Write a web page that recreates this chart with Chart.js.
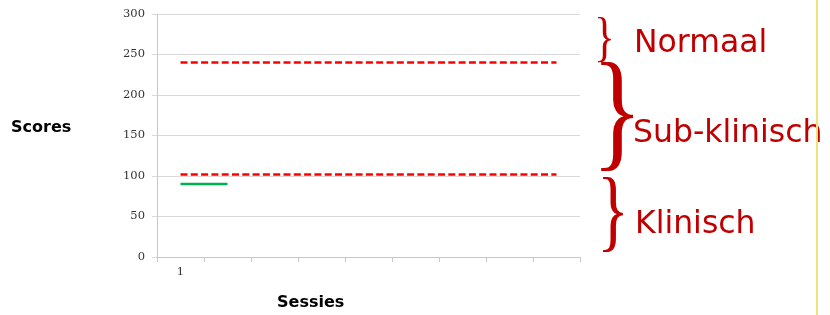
<!DOCTYPE html>
<html>
<head>
<meta charset="utf-8">
<script src="https://cdn.jsdelivr.net/npm/chart.js@4"></script>
<style>
html,body{margin:0;padding:0;background:#fff;}
#wrap{position:relative;width:830px;height:315px;}
</style>
</head>
<body>
<div id="wrap"><canvas id="c" width="830" height="315"></canvas></div>
<script>
// ---- data ----
const categories = ["1", "", "", "", "", "", "", "", ""];
const upperNorm = [240, 240, 240, 240, 240, 240, 240, 240, 240];
const lowerNorm = [102, 102, 102, 102, 102, 102, 102, 102, 102];
const scores = [90, 90, null, null, null, null, null, null, null];
const yTicks = [0, 50, 100, 150, 200, 250, 300];
const yTitle = "Scores";
const xTitle = "Sessies";
const zoneLabels = ["Normaal", "Sub-klinisch", "Klinisch"];

const red = '#c00000';

// measure the real ink box of the brace glyph once
const glyphBox = (function () {
  const S = 200;
  const cv = document.createElement('canvas');
  cv.width = 300; cv.height = 400;
  const g = cv.getContext('2d');
  g.fillStyle = '#000';
  g.font = S + 'px "Liberation Serif"';
  g.textBaseline = 'alphabetic';
  g.textAlign = 'left';
  const ox = 50, oy = 300;
  g.fillText('}', ox, oy);
  const d = g.getImageData(0, 0, cv.width, cv.height).data;
  let x0 = 1e9, y0 = 1e9, x1 = -1, y1 = -1;
  for (let y = 0; y < cv.height; y++) {
    for (let x = 0; x < cv.width; x++) {
      if (d[(y * cv.width + x) * 4 + 3] > 20) {
        if (x < x0) x0 = x; if (x > x1) x1 = x;
        if (y < y0) y0 = y; if (y > y1) y1 = y;
      }
    }
  }
  return { S, dx: x0 - ox, dy: y0 - oy, w: x1 - x0 + 1, h: y1 - y0 + 1 };
})();

function drawBrace(ctx, x, y, w, h) {
  const b = glyphBox;
  ctx.save();
  ctx.font = b.S + 'px "Liberation Serif"';
  ctx.translate(x, y);
  ctx.scale(w / b.w, h / b.h);
  ctx.textAlign = 'left';
  ctx.textBaseline = 'alphabetic';
  ctx.fillStyle = red;
  ctx.fillText('}', -b.dx, -b.dy);
  ctx.restore();
}

const extras = {
  id: 'extras',
  afterDraw(chart) {
    const ctx = chart.ctx;
    ctx.save();
    ctx.fillStyle = '#000';
    ctx.font = 'bold 16px "DejaVu Sans"';
    ctx.textAlign = 'left';
    ctx.textBaseline = 'middle';
    ctx.fillText(yTitle, 11, 128);
    ctx.fillText(xTitle, 277, 303);

    drawBrace(ctx, 598, 17, 13, 45);
    drawBrace(ctx, 601, 62, 32, 109);
    drawBrace(ctx, 603, 177, 20, 75);

    ctx.fillStyle = red;
    ctx.font = '31.5px "DejaVu Sans"';
    ctx.textBaseline = 'alphabetic';
    ctx.fillText(zoneLabels[0], 634, 52);
    ctx.fillText(zoneLabels[1], 633, 142);
    ctx.fillText(zoneLabels[2], 635, 233);

    ctx.strokeStyle = '#efe27a';
    ctx.lineWidth = 2;
    ctx.beginPath();
    ctx.moveTo(817, 0);
    ctx.lineTo(817, 315);
    ctx.stroke();
    ctx.restore();
  }
};

new Chart(document.getElementById('c'), {
  type: 'line',
  data: {
    labels: categories,
    datasets: [
      { label: 'Boven', data: upperNorm, borderColor: '#ff0000', borderWidth: 2.5, borderDash: [7, 3.3], pointRadius: 0, fill: false, tension: 0 },
      { label: 'Onder', data: lowerNorm, borderColor: '#ff0000', borderWidth: 2.5, borderDash: [7, 3.3], pointRadius: 0, fill: false, tension: 0 },
      { label: 'Score', data: scores, borderColor: '#00b050', borderWidth: 2.5, pointRadius: 0, fill: false, spanGaps: false, tension: 0 }
    ]
  },
  options: {
    responsive: false,
    animation: false,
    events: [],
    layout: { padding: { left: 0, top: 14, right: 250, bottom: 0 } },
    plugins: { legend: { display: false }, tooltip: { enabled: false }, title: { display: false } },
    scales: {
      x: {
        type: 'category',
        offset: true,
        grid: { offset: true, drawOnChartArea: false, drawTicks: true, tickLength: 5, color: '#c8c8c8' },
        border: { color: '#c8c8c8', width: 1 },
        ticks: { autoSkip: false, maxRotation: 0, padding: 3, color: '#333', font: { family: '"DejaVu Serif"', size: 11.5 } },
        afterFit(scale) { scale.height = 58; }
      },
      y: {
        min: 0, max: 300,
        afterBuildTicks(scale) { scale.ticks = yTicks.map(v => ({ value: v })); },
        grid: { color: '#d9d9d9', lineWidth: 1, drawTicks: true, tickLength: 5 },
        border: { color: '#c8c8c8', width: 1 },
        ticks: { padding: 7, color: '#333', font: { family: '"DejaVu Serif"', size: 11.5 } },
        afterFit(scale) { scale.width = 157; }
      }
    }
  },
  plugins: [extras]
});
</script>
</body>
</html>
